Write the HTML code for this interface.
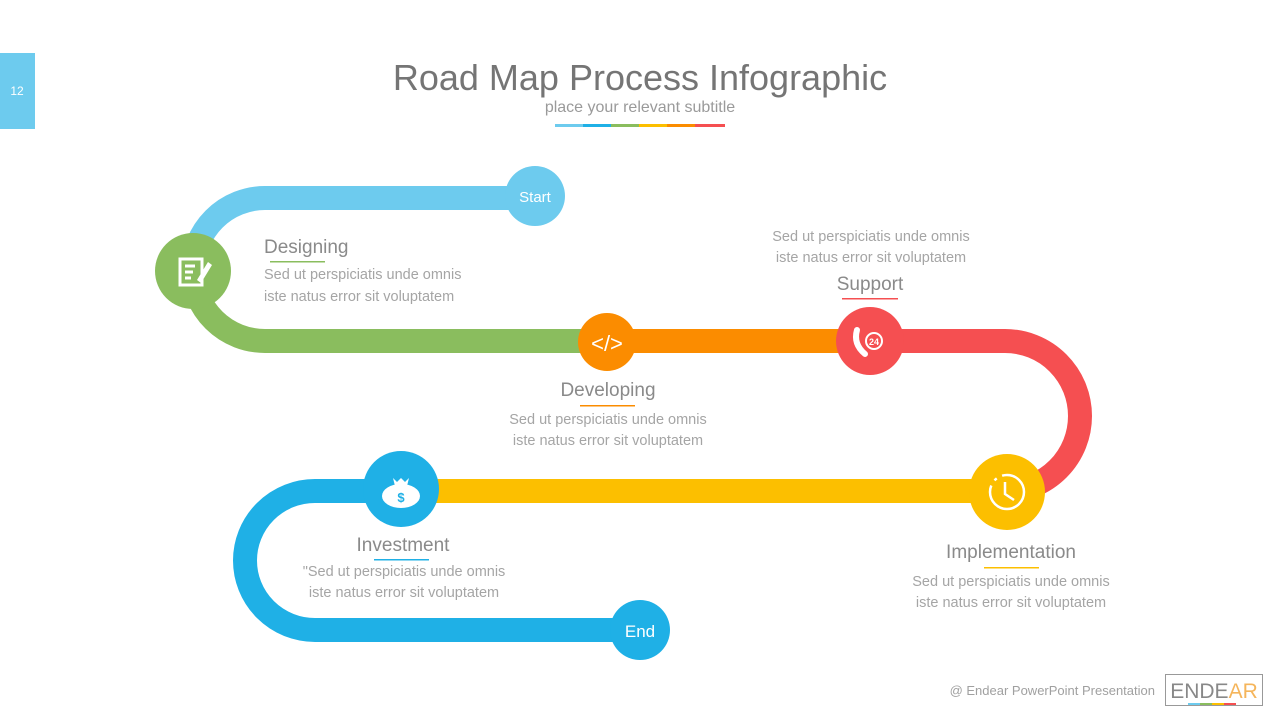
<!DOCTYPE html>
<html><head><meta charset="utf-8"><style>
body{margin:0;width:1280px;height:720px;background:#fff;overflow:hidden;font-family:"Liberation Sans",sans-serif;}
svg{position:absolute;left:0;top:0}
</style></head><body>
<svg width="1280" height="720" viewBox="0 0 1280 720" font-family="Liberation Sans, sans-serif">
<rect x="0" y="53" width="35" height="76" fill="#6dcbee"/>
<text x="17" y="95" font-size="12" fill="#fff" text-anchor="middle">12</text>
<text x="640" y="90" font-size="36" fill="#757575" text-anchor="middle">Road Map Process Infographic</text>
<text x="640" y="112" font-size="16" fill="#9a9a9a" text-anchor="middle">place your relevant subtitle</text>
<rect x="555" y="124" width="28" height="3" fill="#6dcbee"/><rect x="583" y="124" width="28" height="3" fill="#1fb0e6"/>
<rect x="611" y="124" width="28" height="3" fill="#8abd5e"/><rect x="639" y="124" width="28" height="3" fill="#fcbf00"/>
<rect x="667" y="124" width="28" height="3" fill="#fb8c00"/><rect x="695" y="124" width="30" height="3" fill="#f54f51"/>

<g fill="none" stroke-width="24">
<path d="M535 198 H265 A72 72 0 0 0 193 270" stroke="#6dcbee"/>
<path d="M193 270 A72 71 0 0 0 265 341 H607" stroke="#8abd5e"/>
<path d="M607 341 H870" stroke="#fb8c00"/>
<path d="M870 341 H1005 A75 75 0 0 1 1005 491" stroke="#f54f51"/>
<path d="M1007 491 H401" stroke="#fcbf00"/>
<path d="M401 491 H315 A70 69.5 0 0 0 315 630 H640" stroke="#1fb0e6"/>
</g>
<circle cx="535" cy="196" r="30" fill="#6dcbee"/>
<text x="535" y="202" font-size="15" fill="#fff" text-anchor="middle">Start</text>
<circle cx="193" cy="271" r="38" fill="#8abd5e"/>
<g stroke="#fff" stroke-width="3" fill="none"><rect x="180" y="259" width="22" height="26"/><path d="M185 266h10M185 272h8M185 278h6"/></g>
<path d="M197 280 L208 262 L212 265 L201 283 Z" fill="#fff"/>
<circle cx="607" cy="342" r="29" fill="#fb8c00"/>
<text x="607" y="351" font-size="22" fill="#fff" text-anchor="middle">&lt;/&gt;</text>
<circle cx="870" cy="341" r="34" fill="#f54f51"/>
<path d="M857 330 q-4 14 8 24" stroke="#fff" stroke-width="6" fill="none" stroke-linecap="round"/>
<circle cx="874" cy="341" r="8" fill="none" stroke="#fff" stroke-width="2"/>
<text x="874" y="345" font-size="9" fill="#fff" text-anchor="middle" font-weight="bold">24</text>
<circle cx="1007" cy="492" r="38" fill="#fcbf00"/>
<circle cx="1007" cy="492" r="17" fill="none" stroke="#fff" stroke-width="2.5" stroke-dasharray="60 6 3 6"/>
<path d="M1005 482 V494 L1014 500" stroke="#fff" stroke-width="2.5" fill="none"/>
<circle cx="401" cy="489" r="38" fill="#1fb0e6"/>
<ellipse cx="401" cy="496" rx="19" ry="12" fill="#fff"/><path d="M393 478 l4 4 4-4 4 4 4-4 -2 8 h-12z" fill="#fff"/>
<text x="401" y="502" font-size="13" fill="#1fb0e6" text-anchor="middle" font-weight="bold">$</text>
<circle cx="640" cy="630" r="30" fill="#1fb0e6"/>
<text x="640" y="637" font-size="17" fill="#fff" text-anchor="middle">End</text>

<g fill="#8a8a8a">
<text x="264" y="253" font-size="19">Designing</text>
<text x="608" y="396" font-size="19" text-anchor="middle">Developing</text>
<text x="870" y="290" font-size="19" text-anchor="middle">Support</text>
<text x="1011" y="558" font-size="19" text-anchor="middle">Implementation</text>
<text x="403" y="551" font-size="19" text-anchor="middle">Investment</text>
</g>
<rect x="270" y="261" width="55" height="1.5" fill="#8abd5e"/>
<rect x="580" y="405" width="55" height="1.5" fill="#fb8c00"/>
<rect x="842" y="298" width="56" height="1.5" fill="#f54f51"/>
<rect x="984" y="567" width="55" height="1.5" fill="#fcbf00"/>
<rect x="374" y="559" width="55" height="1.5" fill="#1fb0e6"/>
<g fill="#a5a5a5" font-size="14.5">
<text x="264" y="279">Sed ut perspiciatis unde omnis</text>
<text x="264" y="301">iste natus error sit voluptatem</text>
<text x="608" y="424" text-anchor="middle">Sed ut perspiciatis unde omnis</text>
<text x="608" y="445" text-anchor="middle">iste natus error sit voluptatem</text>
<text x="871" y="241" text-anchor="middle">Sed ut perspiciatis unde omnis</text>
<text x="871" y="262" text-anchor="middle">iste natus error sit voluptatem</text>
<text x="1011" y="586" text-anchor="middle">Sed ut perspiciatis unde omnis</text>
<text x="1011" y="607" text-anchor="middle">iste natus error sit voluptatem</text>
<text x="404" y="576" text-anchor="middle">"Sed ut perspiciatis unde omnis</text>
<text x="404" y="597" text-anchor="middle">iste natus error sit voluptatem</text>
</g>
<text x="1155" y="695" font-size="13" fill="#a0a0a0" text-anchor="end">@ Endear PowerPoint Presentation</text>
<rect x="1165.5" y="674.5" width="97" height="31" fill="none" stroke="#999" stroke-width="1"/>
<text x="1214" y="698" font-size="21" fill="#888" text-anchor="middle">ENDE<tspan fill="#f5b55b">AR</tspan></text>
<rect x="1188" y="703" width="12" height="2" fill="#6dcbee"/><rect x="1200" y="703" width="12" height="2" fill="#8abd5e"/>
<rect x="1212" y="703" width="12" height="2" fill="#fcbf00"/><rect x="1224" y="703" width="12" height="2" fill="#f54f51"/>
</svg>
</body></html>
